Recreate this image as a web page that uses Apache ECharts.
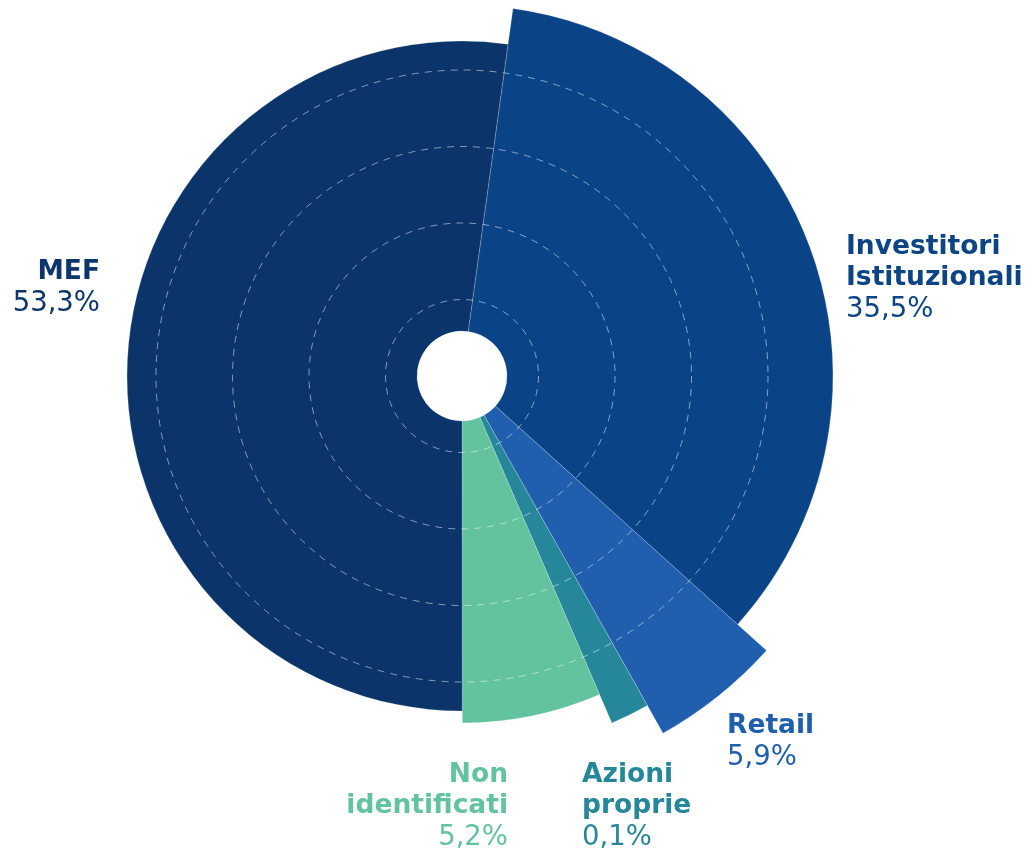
<!DOCTYPE html>
<html>
<head>
<meta charset="utf-8">
<script src="https://cdn.jsdelivr.net/npm/echarts@6/dist/echarts.min.js"></script>
<style>
html,body{margin:0;padding:0;background:#fff;}
#chart{width:1033px;height:856px;}
</style>
</head>
<body>
<div id="chart"></div>
<script>
// ---- data ----
const categories = ['Investitori Istituzionali', 'Retail', 'Azioni proprie', 'Non identificati', 'MEF'];
const labelNames = ['Investitori\nIstituzionali', 'Retail', 'Azioni\nproprie', 'Non\nidentificati', 'MEF'];
const shares = [35.5, 5.9, 0.1, 5.2, 53.3];            // shown percentages
const sectorAngles = [124.1, 18.6, 6.0, 23.3, 187.9];  // sector sweep as drawn (degrees)
const outerRadii = [371, 410, 378, 347, 335];          // sector outer radius as drawn (px)
const ringTicks = [0, 1, 2, 3, 4];                     // dashed guide rings

// ---- style / layout ----
const colors = ['#0b4486', '#1f5fae', '#26879a', '#63c39e', '#0a346a'];
const labelColors = ['#0c4484', '#1f5fae', '#26879a', '#63c39e', '#0b356b'];
const center = [462, 376];
const innerR = 45;
const labelPlace = [
  {x: 846, y: 231, align: 'left'},
  {x: 727, y: 710, align: 'left'},
  {x: 582, y: 759, align: 'left'},
  {x: 508, y: 759, align: 'right'},
  {x: 100, y: 256, align: 'right'}
];
const FONT = 'DejaVu Sans';

function fmt(v){ return v.toFixed(1).replace('.', ',') + '%'; }

const series = categories.map(function(cat, i){
  return {
    type: 'pie',
    name: cat,
    center: center,
    radius: [innerR, outerRadii[i]],
    startAngle: 90 - 7.9,
    clockwise: true,
    avoidLabelOverlap: false,
    silent: true,
    z: 2,
    labelLine: {show: false},
    emphasis: {disabled: true},
    labelLayout: function(){
      return {x: labelPlace[i].x, y: labelPlace[i].y, align: labelPlace[i].align, verticalAlign: 'top'};
    },
    data: categories.map(function(c, j){
      const visible = j === i;
      return {
        name: c,
        value: sectorAngles[j],
        itemStyle: visible ? {color: colors[j], borderColor: 'rgba(255,255,255,0.35)', borderWidth: 0.6}
                           : {color: 'rgba(0,0,0,0)', borderWidth: 0},
        label: visible ? {
          show: true,
          position: 'outside',
          formatter: function(){
            const lines = labelNames[j].split('\n').map(function(s){ return '{b|' + s + '}'; });
            lines.push('{p|' + fmt(shares[j]) + '}');
            return lines.join('\n');
          },
          align: labelPlace[j].align,
          rich: {
            b: {fontFamily: FONT, fontWeight: 'bold', fontSize: 26.5, lineHeight: 31.5, color: labelColors[j], align: labelPlace[j].align},
            p: {fontFamily: FONT, fontWeight: 'normal', fontSize: 27.5, lineHeight: 32, color: labelColors[j], align: labelPlace[j].align}
          }
        } : {show: false}
      };
    })
  };
});

const chart = echarts.init(document.getElementById('chart'), null, {renderer: 'canvas'});
chart.setOption({
  animation: false,
  backgroundColor: '#ffffff',
  polar: {center: center, radius: 306},
  angleAxis: {show: false, type: 'value', min: 0, max: 360},
  radiusAxis: {
    type: 'value', min: ringTicks[0], max: ringTicks[ringTicks.length - 1], interval: 1,
    z: 10,
    axisLine: {show: false}, axisTick: {show: false}, axisLabel: {show: false},
    splitLine: {show: true, lineStyle: {color: 'rgba(255,255,255,0.5)', width: 1, type: [7, 6]}}
  },
  series: series
});
</script>
</body>
</html>
